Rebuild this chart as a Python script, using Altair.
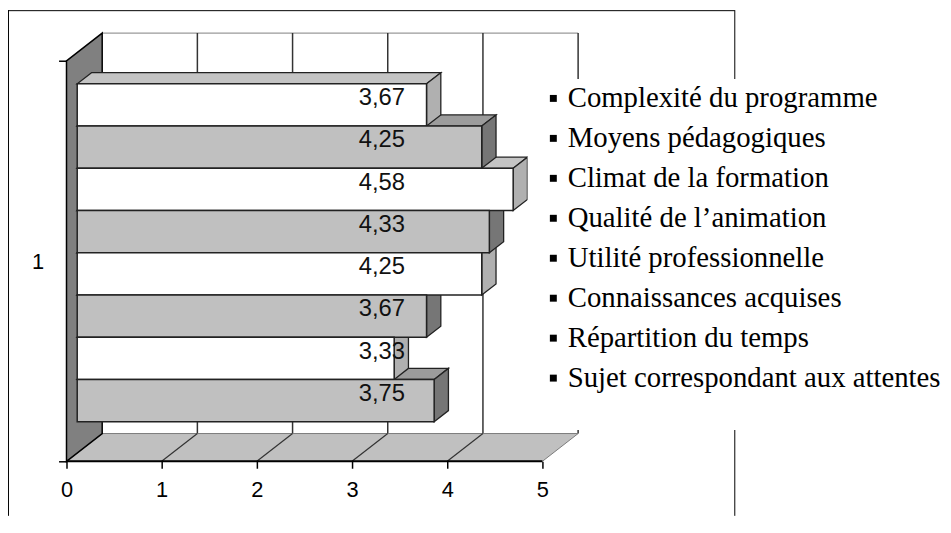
import altair as alt
import pandas as pd

# ---------------- data ----------------
series = ["Complexité du programme", "Moyens pédagogiques", "Climat de la formation",
          "Qualité de l’animation", "Utilité professionnelle", "Connaissances acquises",
          "Répartition du temps", "Sujet correspondant aux attentes"]
values = [3.67, 4.25, 4.58, 4.33, 4.25, 3.67, 3.33, 3.75]
x_ticks = [0, 1, 2, 3, 4, 5]
category_label = "1"

# ---------------- geometry / style ----------------
W, H = 943, 510            # drawing area (page 8..951, 8..518)
X0, PX = 59, 96.0          # pixel of x=0 and pixels per unit
Y0, PY = 455, 42.6         # pixel of y=0 (front floor) and pixels per category band
DX, DY = 36 / PX, 28 / PY  # depth of the 3D box in data units
Z0, Z1 = 0.3, 0.7          # depth occupied by the bars
GAP = 0.74
N = len(series)
TOP = N + 2 * GAP
XMAX = x_ticks[-1]

WHITE = {"front": "#ffffff", "top": "#c4c4c4", "side": "#b0b0b0"}
GREY = {"front": "#c0c0c0", "top": "#9c9c9c", "side": "#767676"}

xscale = alt.Scale(domain=[-X0 / PX, (W - X0) / PX], nice=False, zero=False)
yscale = alt.Scale(domain=[-(H - Y0) / PY, Y0 / PY], nice=False, zero=False)

xaxis = alt.Axis(values=x_ticks, title=None, domain=False, grid=False, tickSize=7,
                 tickColor="black", tickWidth=1.5, labelFont="Liberation Sans",
                 labelFontSize=22, labelColor="black", labelPadding=12,
                 offset=-(H - Y0), format="d")
mid = TOP / 2
yaxis = alt.Axis(values=[0, mid, TOP], title=None, domain=False, grid=False, tickSize=8,
                 tickWidth=1.5,
                 tickColor={"condition": {"test": f"abs(datum.value - {mid}) < 0.001",
                                          "value": "transparent"}, "value": "black"},
                 labelExpr=f"abs(datum.value - {mid}) < 0.001 ? '{category_label}' : ''",
                 labelFont="Liberation Sans", labelFontSize=22, labelColor="black",
                 labelPadding=15, offset=-X0)


def X(f, **kw):
    return alt.X(f, scale=xscale, axis=xaxis, **kw)


def Y(f, **kw):
    return alt.Y(f, scale=yscale, axis=yaxis, **kw)


# ---------------- build faces from the values ----------------
fronts, tops, sides, labels, keys = [], [], [], [], []
for k, (s, v) in enumerate(zip(series, values)):
    pal = WHITE if k % 2 == 0 else GREY
    yb = GAP + (N - 1 - k)
    yt = yb + 1
    fronts.append(dict(series=s, x=Z0 * DX, x2=v + Z0 * DX, y=yb + Z0 * DY,
                       y2=yt + Z0 * DY, fill=pal["front"]))
    for z in (Z0, Z1):
        tops.append(dict(series=s, y=yt + z * DY, x=z * DX, x2=v + z * DX, fill=pal["top"]))
    side_pts = []
    for z in (Z0, Z1):
        side_pts.append(dict(series=s, x=v + z * DX, y=yb + z * DY, y2=yt + z * DY,
                             fill=pal["side"]))
    sides = side_pts + sides          # lower bars first, upper bars drawn on top
    labels.append(dict(series=s, text=f"{v:.2f}".replace(".", ","),
                       x=3.2 + Z0 * DX, y=(yb + yt) / 2 + Z0 * DY + 0.16))
    keys.append(dict(series=s, x=1.0 + Z0 * DX, y=(yb + yt) / 2 + Z0 * DY))

fronts_df = pd.DataFrame(fronts)
tops_df = pd.DataFrame(tops)
sides_df = pd.DataFrame(sides)
labels_df = pd.DataFrame(labels)
keys_df = pd.DataFrame(keys)

grid_df = pd.DataFrame({"x": [t + DX for t in x_ticks[1:]], "y": DY, "y2": TOP + DY})
floor_lines_df = pd.DataFrame({"x": x_ticks[1:-1], "y": 0.0,
                               "x2": [t + DX for t in x_ticks[1:-1]], "y2": DY})
floor_df = pd.DataFrame({"y": [0.0, DY], "x": [0.0, DX], "x2": [XMAX, XMAX + DX]})
front_edge_df = pd.DataFrame({"x": [0.0], "x2": [XMAX], "y": [0.0]})
back_top_df = pd.DataFrame({"x": [DX], "x2": [XMAX + DX], "y": [TOP + DY]})
wall_df = pd.DataFrame({"x": [0.0, DX], "y": [0.0, DY], "y2": [TOP, TOP + DY]})
one = pd.DataFrame({"a": [0]})

# ---------------- layers ----------------
legend_keys = alt.Chart(keys_df).mark_square(size=49, opacity=1).encode(
    x=X("x:Q"), y=Y("y:Q"),
    color=alt.Color("series:N",
                    scale=alt.Scale(domain=series, range=["black"] * N),
                    legend=alt.Legend(orient="none", legendX=524, legendY=69.5,
                                      fillColor="white", padding=5, zindex=1,
                                      symbolType="square", symbolSize=49,
                                      symbolOpacity=1, symbolOffset=6.5,
                                      symbolStrokeWidth=0, labelFont="Liberation Serif",
                                      labelFontSize=29, labelColor="black", labelLimit=600,
                                      labelOffset=0, rowPadding=10.3, title=" ",
                                      titleOrient="bottom", titleFontSize=22,
                                      titlePadding=11)))

back_top = alt.Chart(back_top_df).mark_rule(color="#9a9a9a", strokeWidth=1.5).encode(
    x=X("x:Q"), x2="x2:Q", y=Y("y:Q"))
grid = alt.Chart(grid_df).mark_rule(color="#333333", strokeWidth=1.5).encode(
    x=X("x:Q"), y=Y("y:Q"), y2="y2:Q")
floor = alt.Chart(floor_df).mark_area(orient="horizontal", color="#c0c0c0",
                                      stroke="#7a7a7a", strokeWidth=1).encode(
    y=Y("y:Q", stack=None), x=X("x:Q", stack=None), x2="x2:Q")
floor_lines = alt.Chart(floor_lines_df).mark_rule(color="#333333", strokeWidth=1.2).encode(
    x=X("x:Q"), y=Y("y:Q"), x2="x2:Q", y2="y2:Q")
front_edge = alt.Chart(front_edge_df).mark_rule(color="black", strokeWidth=2).encode(
    x=X("x:Q"), x2="x2:Q", y=Y("y:Q"))
wall = alt.Chart(wall_df).mark_area(color="#808080", stroke="black", strokeWidth=1.5).encode(
    x=X("x:Q", stack=None), y=Y("y:Q", stack=None), y2="y2:Q")

bar_tops = alt.Chart(tops_df).mark_area(orient="horizontal", stroke="#222222",
                                        strokeWidth=1.3).encode(
    y=Y("y:Q", stack=None), x=X("x:Q", stack=None), x2="x2:Q",
    fill=alt.Fill("fill:N", scale=None), detail="series:N")
bar_sides = alt.Chart(sides_df).mark_area(stroke="#222222", strokeWidth=1.3).encode(
    x=X("x:Q", stack=None), y=Y("y:Q", stack=None), y2="y2:Q",
    fill=alt.Fill("fill:N", scale=None), detail="series:N")
bar_fronts = alt.Chart(fronts_df).mark_rect(stroke="#222222", strokeWidth=1.5).encode(
    x=X("x:Q"), x2="x2:Q", y=Y("y:Q"), y2="y2:Q", fill=alt.Fill("fill:N", scale=None))
bar_labels = alt.Chart(labels_df).mark_text(font="Liberation Sans", fontSize=24,
                                            color="#111111", align="center",
                                            baseline="middle").encode(
    x=X("x:Q"), y=Y("y:Q"), text="text:N")

frame_left = alt.Chart(one).mark_rule(color="black", strokeWidth=1).encode(
    x=alt.value(0.5), y=alt.value(0), y2=alt.value(H))
frame_top = alt.Chart(one).mark_rule(color="black", strokeWidth=1).encode(
    x=alt.value(0), x2=alt.value(733), y=alt.value(0.5))
frame_right = alt.Chart(one).mark_rule(color="black", strokeWidth=1).encode(
    x=alt.value(733), y=alt.value(0), y2=alt.value(H))

chart = alt.layer(
    legend_keys, back_top, grid, floor, floor_lines, front_edge, wall,
    bar_tops, bar_sides, bar_fronts, bar_labels, frame_left, frame_top, frame_right
).properties(
    width=W, height=H, padding=0, background="white",
    autosize=alt.AutoSizeParams(type="none")
).configure_view(stroke=None)

chart.save("out.html", embed_options={"renderer": "svg", "actions": False})
